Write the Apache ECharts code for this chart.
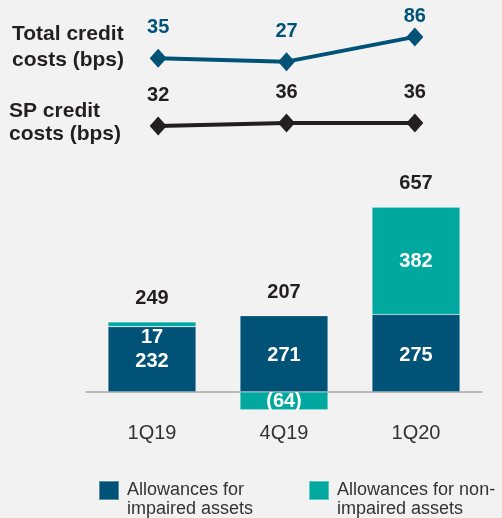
<!DOCTYPE html>
<html>
<head>
<meta charset="utf-8">
<script src="https://cdn.jsdelivr.net/npm/echarts@6/dist/echarts.min.js"></script>
<style>
  html, body { margin: 0; padding: 0; background: #f2f2f2; }
  #chart { width: 502px; height: 518px; }
</style>
</head>
<body>
<div id="chart"></div>
<script>
// ===== data =====
const quarters = ['1Q19', '4Q19', '1Q20'];
const totalCreditCosts = [35, 27, 86];       // bps
const spCreditCosts = [32, 36, 36];          // bps
const impairedAllowances = [232, 271, 275];
const nonImpairedAllowances = [17, -64, 382];

// ===== colours =====
const DARK = '#005277';
const TEAL = '#00a8a0';
const INK = '#231f20';
const FONT = 'Liberation Sans, Arial, sans-serif';

// totals above each bar (placed at the top of the positive stack)
const totals = quarters.map((q, i) => impairedAllowances[i] + nonImpairedAllowances[i]);
const positiveTops = quarters.map((q, i) =>
    Math.max(impairedAllowances[i], 0) + Math.max(nonImpairedAllowances[i], 0));

// label distances for the line values (manual nudges as in the slide)
const totalLabelGap = [11, 11, 1];

const chart = echarts.init(document.getElementById('chart'));

const hiddenCat = (gridIndex) => ({
    type: 'category', gridIndex, data: quarters,
    axisLine: { show: false }, axisTick: { show: false }, axisLabel: { show: false }
});
const hiddenVal = (gridIndex, min, max) => ({
    type: 'value', gridIndex, min, max,
    axisLine: { show: false }, axisTick: { show: false },
    axisLabel: { show: false }, splitLine: { show: false }
});

const boldLabel = { fontSize: 20, fontWeight: 'bold', fontFamily: FONT };

const option = {
    backgroundColor: '#f2f2f2',
    animation: false,
    textStyle: { fontFamily: FONT },
    grid: [
        { left: 94, right: 23, top: 31, height: 42 },      // total credit costs
        { left: 94, right: 23, top: 112.5, height: 37.5 }, // SP credit costs
        { left: 86, right: 20, top: 195, height: 225 }     // allowances
    ],
    xAxis: [
        hiddenCat(0),
        hiddenCat(1),
        {
            type: 'category', gridIndex: 2, data: quarters,
            axisLine: { onZero: true, lineStyle: { color: '#a6a6a6', width: 1.5 } },
            axisTick: { show: false },
            axisLabel: { color: '#333', fontSize: 20, fontFamily: FONT, margin: 3 }
        }
    ],
    yAxis: [
        hiddenVal(0, 0, 100),
        hiddenVal(1, 0, 50),
        hiddenVal(2, -100, 700)
    ],
    legend: {
        left: 93, top: 457,
        itemWidth: 20, itemHeight: 19, itemGap: 55,
        icon: 'rect',
        selectedMode: false,
        data: ['Allowances for\nimpaired assets', 'Allowances for non-\nimpaired assets'],
        // blank first line keeps the swatch level with the first text line
        formatter: name => ' \n' + name,
        textStyle: {
            color: '#333', fontSize: 18, lineHeight: 19, fontFamily: FONT,
            padding: [0, 0, 0, 3]
        }
    },
    graphic: [
        {
            type: 'text', left: 12, top: 21,
            style: {
                text: 'Total credit\ncosts (bps)', fill: INK,
                font: 'bold 21px ' + FONT, lineHeight: 26
            }
        },
        {
            type: 'text', left: 9, top: 100,
            style: {
                text: 'SP credit\ncosts (bps)', fill: INK,
                font: 'bold 21px ' + FONT, lineHeight: 23
            }
        }
    ],
    series: [
        {
            name: 'Total credit costs', type: 'line',
            xAxisIndex: 0, yAxisIndex: 0,
            data: totalCreditCosts.map((v, i) => ({
                value: v, label: { distance: totalLabelGap[i] }
            })),
            symbol: 'diamond', symbolSize: [17, 19],
            lineStyle: { color: DARK, width: 4 },
            itemStyle: { color: DARK },
            label: Object.assign({ show: true, position: 'top', color: DARK }, boldLabel)
        },
        {
            name: 'SP credit costs', type: 'line',
            xAxisIndex: 1, yAxisIndex: 1,
            data: spCreditCosts,
            symbol: 'diamond', symbolSize: [17, 19],
            lineStyle: { color: INK, width: 4 },
            itemStyle: { color: INK },
            label: Object.assign({ show: true, position: 'top', distance: 11, color: INK }, boldLabel)
        },
        {
            name: 'Allowances for\nimpaired assets', type: 'bar',
            xAxisIndex: 2, yAxisIndex: 2, stack: 'alw',
            barWidth: 88,
            data: impairedAllowances,
            itemStyle: { color: DARK, borderColor: 'rgba(255,255,255,0.35)', borderWidth: 0.6 },
            label: Object.assign({ show: true, position: 'inside', color: '#fff', offset: [0, 2] }, boldLabel)
        },
        {
            name: 'Allowances for non-\nimpaired assets', type: 'bar',
            xAxisIndex: 2, yAxisIndex: 2, stack: 'alw',
            barWidth: 88,
            data: nonImpairedAllowances.map((v, i) => ({
                value: v,
                // the thin 1Q19 slice gets its label just below, over the dark bar
                label: v > 0 && v < 30 ? { position: 'insideBottom', offset: [0, 26] } : {}
            })),
            itemStyle: { color: TEAL, borderColor: 'rgba(255,255,255,0.35)', borderWidth: 0.6 },
            label: Object.assign({
                show: true, position: 'inside', color: '#fff', offset: [0, 1],
                formatter: p => p.value < 0 ? '(' + Math.abs(p.value) + ')' : String(p.value)
            }, boldLabel)
        },
        {
            name: 'Total', type: 'scatter',
            xAxisIndex: 2, yAxisIndex: 2,
            data: positiveTops,
            symbolSize: 1,
            silent: true,
            itemStyle: { color: 'rgba(0,0,0,0)', opacity: 1 },
            label: Object.assign({
                show: true, position: 'top', distance: 13, color: INK, opacity: 1,
                formatter: p => String(totals[p.dataIndex])
            }, boldLabel)
        }
    ]
};

chart.setOption(option);
</script>
</body>
</html>
